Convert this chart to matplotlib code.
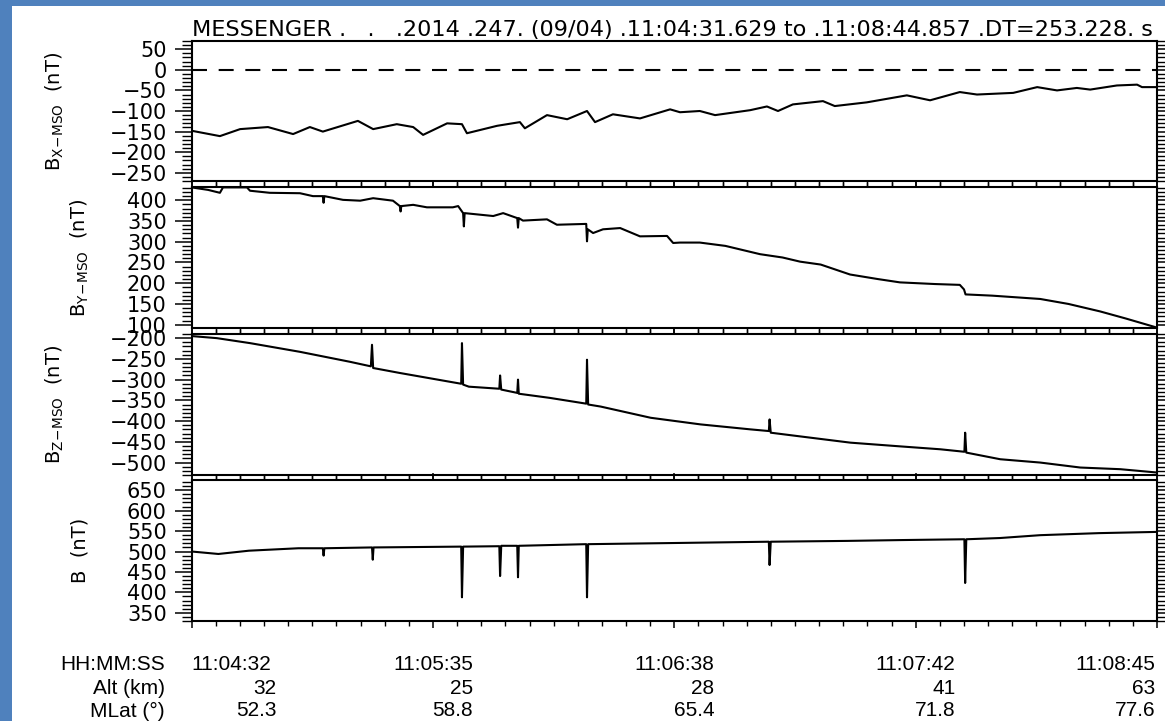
import matplotlib
matplotlib.use("Agg")
import matplotlib.pyplot as plt
from matplotlib.patches import Rectangle
from matplotlib.ticker import MultipleLocator, FixedLocator

# Time axis: seconds after 11:04:31.629 (DT = 253.228 s)
DT = 253.228
tick_times = [0.0, 63.307, 126.614, 189.921, 253.228]
tick_labels = ["11:04:32", "11:05:35", "11:06:38", "11:07:42", "11:08:45"]
alt_km = ["32", "25", "28", "41", "63"]
mlat_deg = ["52.3", "58.8", "65.4", "71.8", "77.6"]

# Bx-MSO (nT)
bx_t = [0.0, 7.4, 12.7, 20.0, 26.6, 31.0, 34.4, 43.6, 47.6, 53.8, 58.1, 60.7,
        67.0, 70.9, 72.2, 80.1, 86.1, 87.4, 93.2, 98.5, 103.7, 105.8, 110.5,
        117.6, 125.5, 128.1, 133.3, 137.3, 146.5, 150.9, 153.8, 157.7, 165.6,
        168.7, 177.1, 187.6, 193.7, 201.5, 206.0, 215.5, 221.8, 227.0, 232.2,
        235.7, 242.7, 248.0, 249.3, 253.2]
bx = [-148, -161, -144, -139, -156, -139, -150, -124, -144, -132, -139, -158,
      -130, -132, -154, -136, -127, -142, -110, -120, -100, -127, -108,
      -118, -96, -103, -100, -110, -98, -89, -100, -84, -76,
      -88, -79, -62, -74, -54, -60, -56, -42, -50, -44,
      -48, -38, -36, -42, -42]

# By-MSO (nT)
by_t = [0.0, 4.3, 7.4, 8.2, 14.5, 15.3, 20.5, 28.4, 31.8, 34.4, 34.6, 34.8,
        39.7, 44.2, 47.6, 52.8, 54.6, 54.8, 55.0, 58.1, 61.7, 68.5, 69.9,
        71.2, 71.4, 71.6, 79.1, 81.7, 85.4, 85.6, 85.8, 86.9, 93.2, 95.8,
        103.5, 103.7, 103.9, 105.3, 107.9, 112.4, 117.6, 124.7, 126.3, 128.1,
        133.3, 140.0, 149.1, 155.0, 159.6, 165.0, 172.7, 180.0, 185.8, 195.0,
        201.5, 202.6, 203.0, 210.0, 222.6, 230.0, 238.3, 245.0, 253.2]
by = [431, 425, 418, 431, 431, 423, 418, 417, 410, 410, 394, 410,
      401, 399, 405, 399, 386, 373, 386, 389, 383, 383, 386,
      369, 337, 369, 362, 369, 357, 334, 357, 351, 354, 341,
      343, 301, 330, 321, 330, 333, 313, 314, 297, 298,
      298, 290, 270, 262, 252, 245, 221, 210, 202, 198,
      196, 185, 173, 170, 162, 150, 132, 115, 93]

# Bz-MSO (nT)
bz_t = [0.0, 6.6, 15.3, 28.4, 41.5, 47.0, 47.3, 47.6, 54.6, 70.7, 70.9, 71.2,
        72.7, 80.7, 80.9, 81.2, 85.4, 85.6, 85.8, 93.9, 103.5, 103.7, 104.0,
        107.3, 120.4, 133.5, 146.6, 151.4, 151.6, 151.9, 159.7, 172.8, 185.9,
        196.4, 202.7, 202.9, 203.2, 212.1, 222.6, 233.1, 243.6, 253.2]
bz = [-195, -200, -212, -233, -257, -268, -216, -272, -284, -310, -212, -312,
      -317, -322, -290, -324, -332, -300, -334, -344, -358, -252, -360,
      -365, -392, -408, -420, -424, -396, -428, -437, -452, -461,
      -468, -474, -428, -476, -492, -500, -512, -516, -524]

# |B| (nT)
b_t = [0.0, 7.0, 15.0, 28.0, 34.4, 34.6, 34.8, 47.3, 47.5, 47.7, 70.7, 70.9,
       71.2, 80.7, 80.9, 81.2, 85.4, 85.6, 85.8, 103.5, 103.7, 104.0, 128.0,
       151.4, 151.6, 151.9, 172.0, 186.0, 202.7, 202.9, 203.2, 212.0, 222.6,
       238.0, 253.2]
b = [500, 494, 502, 508, 508, 490, 508, 510, 480, 510, 512, 388,
     512, 513, 440, 514, 514, 437, 514, 518, 388, 518, 521,
     524, 467, 524, 526, 528, 530, 423, 530, 533, 540,
     545, 548]

W, H = 1165, 721
L, R = 191.7, 1157.0
panels = [(41, 181), (187, 328), (334, 475), (480, 621)]

fig = plt.figure(figsize=(W / 100, H / 100), dpi=100, facecolor="#4f81bd")
fig.add_artist(Rectangle((12 / W, 0), 1 - 12 / W, 1 - 6 / H,
                         transform=fig.transFigure, facecolor="white",
                         edgecolor="none", zorder=-10))

series = [
    (bx_t, bx, (-270, 70), r"B$_{\rm X\!-\!MSO}$  (nT)", 55),
    (by_t, by, (92, 432), r"B$_{\rm Y\!-\!MSO}$  (nT)", 80),
    (bz_t, bz, (-530, -190), r"B$_{\rm Z\!-\!MSO}$  (nT)", 55),
    (b_t, b, (330, 675), "B  (nT)", 80),
]

axes = []
for i, ((top, bot), (t, v, ylim, ylab, lab_x)) in enumerate(zip(panels, series)):
    ax = fig.add_axes([L / W, 1 - bot / H, (R - L) / W, (bot - top) / H])
    ax.plot(t, v, color="black", lw=1.5)
    ax.set_xlim(0, DT)
    ax.set_ylim(*ylim)
    for s in ax.spines.values():
        s.set_linewidth(1.5)

    ax.yaxis.set_major_locator(MultipleLocator(50))
    ax.yaxis.set_minor_locator(MultipleLocator(10))
    ax.xaxis.set_major_locator(FixedLocator(tick_times))
    ax.xaxis.set_minor_locator(MultipleLocator(DT / 40))
    ax.tick_params(axis="y", which="major", direction="out", length=12,
                   width=1.1, labelsize=15, pad=6, right=True)
    ax.tick_params(axis="y", which="minor", direction="out", length=7,
                   width=1.0, right=True)
    ax.tick_params(axis="x", which="major", direction="out", length=5,
                   width=1.1, top=True, labelbottom=False)
    ax.tick_params(axis="x", which="minor", direction="out", length=3.5,
                   width=1.0, top=True)
    if i == 0:
        ax.tick_params(axis="x", which="both", top=False)
        ax.axhline(0, color="black", lw=1.5, linestyle=(0, (7.2, 5.6)))

    ax.set_ylabel(ylab, fontsize=14, rotation=90, va="center")
    ax.yaxis.set_label_coords((lab_x - L) / (R - L), 0.5)
    axes.append(ax)

# right-side ticks: shorter, outward
for ax in axes:
    for tk in ax.yaxis.get_major_ticks() + ax.yaxis.get_minor_ticks():
        tk.tick2line.set_markersize(6)

# Title sitting on the top frame
title = fig.text(L / W, 1 - 40 / H,
                 "MESSENGER .   .   .2014 .247. (09/04) .11:04:31.629 to "
                 ".11:08:44.857 .DT=253.228. s",
                 ha="left", va="bottom", fontsize=15)
fig.canvas.draw()
tw = title.get_window_extent().width
title.set_fontsize(15 * (R - L - 2) / tw)

# Bottom annotation rows
ax4 = axes[-1]
row_y = [664, 689, 711]
row_names = ["HH:MM:SS", "Alt (km)", "MLat (\u00b0)"]
for name, y in zip(row_names, row_y):
    fig.text(165 / W, 1 - y / H, name, ha="right", va="center",
             fontsize=15, family="Liberation Sans")

px2pt = 72 / 100
time_ha = ["left", "center", "center", "center", "right"]
time_dx = [0, 0, 0, 0, -2]
val_dx = [85, 40, 40, 40, -2]
for k, tt in enumerate(tick_times):
    ax4.annotate(tick_labels[k], xy=(tt, 0), xycoords=("data", "axes fraction"),
                 xytext=(time_dx[k] * px2pt, -(row_y[0] - 621) * px2pt),
                 textcoords="offset points", ha=time_ha[k], va="center",
                 fontsize=15, family="Liberation Sans")
    for vals, y in ((alt_km, row_y[1]), (mlat_deg, row_y[2])):
        ax4.annotate(vals[k], xy=(tt, 0), xycoords=("data", "axes fraction"),
                     xytext=(val_dx[k] * px2pt, -(y - 621) * px2pt),
                     textcoords="offset points", ha="right", va="center",
                     fontsize=15, family="Liberation Sans")

fig.savefig("out.png", dpi=100, facecolor=fig.get_facecolor())
